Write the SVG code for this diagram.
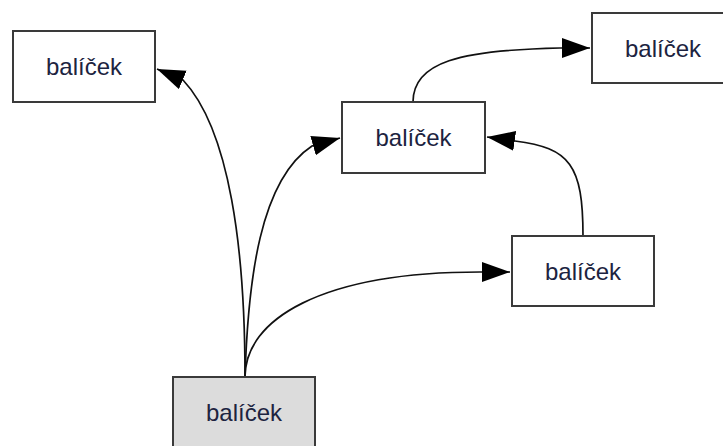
<svg xmlns="http://www.w3.org/2000/svg" width="723" height="446" viewBox="0 0 723 446">
<style>
.box{fill:#fff;stroke:#3a3a3a;stroke-width:2}
.root{fill:#dcdcdc}
.lbl{font-family:"Liberation Sans",Arial,sans-serif;font-size:24px;fill:#1c2340;text-anchor:middle}
.edge{fill:none;stroke:#111;stroke-width:1.7;marker-end:url(#arr)}
</style>
<defs>
<marker id="arr" markerUnits="userSpaceOnUse" markerWidth="30" markerHeight="22" refX="28" refY="10" orient="auto">
<path d="M0,0 L28,10 L0,20 z" fill="#000"/>
</marker>
</defs>
<rect width="723" height="446" fill="#fff"/>
<g id="connectors">
<path class="edge" d="M245,377 C245,250 230,130 183,80 L157,69"/>
<path class="edge" d="M245,377 C248,280 260,180 312,146 L340,138"/>
<path class="edge" d="M245,377 C245,320 320,272 480,272 L510,272"/>
<path class="edge" d="M583,236 C583,165 570,148 515,141 L487,137"/>
<path class="edge" d="M413,102 C413,62 460,50 560,48 L590,48"/>
</g>
<g id="n1"><rect class="box" x="13" y="31" width="142" height="71"/><text class="lbl" x="84" y="75">balíček</text></g>
<g id="n2"><rect class="box" x="342" y="102" width="143" height="71"/><text class="lbl" x="413.5" y="146">balíček</text></g>
<g id="n3"><rect class="box" x="592" y="13" width="142" height="70"/><text class="lbl" x="663" y="56.5">balíček</text></g>
<g id="n4"><rect class="box" x="512" y="236" width="142" height="70"/><text class="lbl" x="583" y="279.5">balíček</text></g>
<g id="n5"><rect class="box root" x="173" y="377" width="142" height="72"/><text class="lbl" x="244" y="421">balíček</text></g>
</svg>
